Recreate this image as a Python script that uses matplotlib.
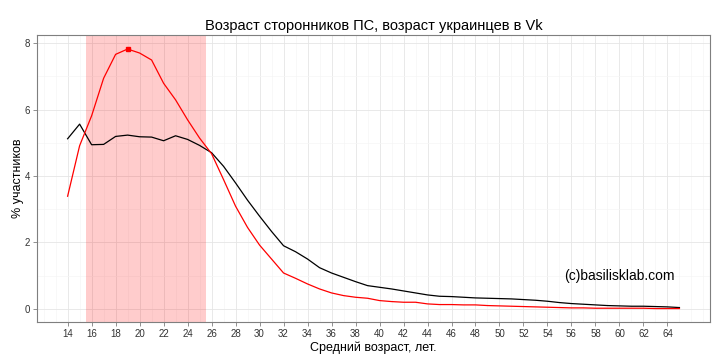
import numpy as np
import matplotlib
matplotlib.use('Agg')
import matplotlib.pyplot as plt
from matplotlib.ticker import MultipleLocator, FixedLocator

plt.rcParams['font.family'] = ['Liberation Sans', 'DejaVu Sans']

# age axis and the two series (% of members)
ages = list(range(14, 66))
ps_share = [3.39, 4.91, 5.81, 6.94, 7.66, 7.82, 7.70, 7.49, 6.79, 6.29,
            5.69, 5.14, 4.67, 3.89, 3.09, 2.45, 1.92, 1.50, 1.08, 0.92,
            0.75, 0.60, 0.48, 0.40, 0.35, 0.32, 0.25, 0.22, 0.20, 0.20,
            0.15, 0.13, 0.13, 0.12, 0.12, 0.10, 0.09, 0.08, 0.07, 0.06,
            0.05, 0.04, 0.03, 0.03, 0.02, 0.02, 0.02, 0.02, 0.02, 0.01,
            0.01, 0.01]
vk_share = [5.12, 5.56, 4.94, 4.95, 5.19, 5.23, 5.18, 5.17, 5.06, 5.21,
            5.10, 4.92, 4.70, 4.29, 3.79, 3.27, 2.79, 2.33, 1.90, 1.72,
            1.50, 1.24, 1.08, 0.95, 0.82, 0.70, 0.65, 0.60, 0.54, 0.48,
            0.42, 0.38, 0.37, 0.35, 0.33, 0.32, 0.31, 0.30, 0.28, 0.26,
            0.23, 0.19, 0.16, 0.14, 0.12, 0.10, 0.09, 0.08, 0.08, 0.07,
            0.06, 0.04]
x_ticks = list(range(14, 65, 2))
peak_age = 19
peak_value = 7.82
band = (15.5, 25.5)

fig = plt.figure(figsize=(7.26, 3.58), dpi=100)
ax = fig.add_axes([0.051, 0.101, 0.927, 0.801])

ax.set_xlim(11.45, 67.55)
ax.set_ylim(-0.39, 8.24)
ax.xaxis.set_major_locator(FixedLocator(x_ticks))
ax.xaxis.set_minor_locator(MultipleLocator(1))
ax.yaxis.set_major_locator(MultipleLocator(2))
ax.yaxis.set_minor_locator(MultipleLocator(1))

# theme_bw-like grid
ax.grid(which='major', color='#e5e5e5', linewidth=0.6, zorder=0)
ax.grid(which='minor', color='#f5f5f5', linewidth=0.5, zorder=0)
ax.set_axisbelow(True)

ax.axvspan(band[0], band[1], color='red', alpha=0.2, linewidth=0, zorder=1)

ax.plot(ages, vk_share, color='black', linewidth=0.9, zorder=3)
ax.plot(ages, ps_share, color='red', linewidth=0.9, zorder=3)
ax.plot([peak_age], [peak_value], 's', color='red', markersize=3, zorder=4)

ax.text(60, 1.0, '(c)basilisklab.com', fontsize=10, ha='center', va='center')

for s in ax.spines.values():
    s.set_color('#7f7f7f')
    s.set_linewidth(0.8)
ax.tick_params(which='major', length=3, width=0.6, color='#7f7f7f',
               labelsize=7, labelcolor='#333333', pad=2)
ax.tick_params(which='minor', length=0)

ax.set_title('Возраст сторонников ПС, возраст украинцев в Vk', fontsize=10.5, pad=4)
ax.set_xlabel('Средний возраст, лет.', fontsize=9, labelpad=2)
ax.set_ylabel('% участников', fontsize=9, labelpad=0.5)

fig.savefig('out.png', dpi=100)
